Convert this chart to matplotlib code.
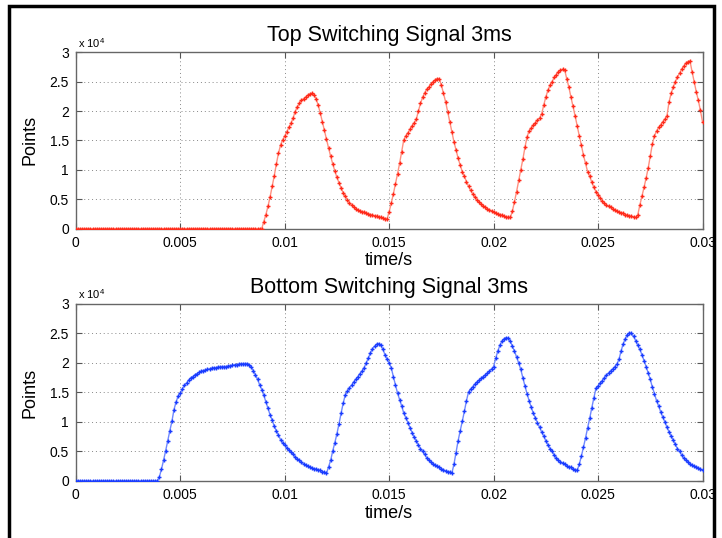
import numpy as np
import matplotlib
matplotlib.use('Agg')
import matplotlib.pyplot as plt
from matplotlib.patches import Rectangle

# Sampling grid: 0 .. 0.03 s in steps of 0.1 ms
dt = 1e-4
n_samples = 301

# Top switching signal (values in units of 1e4 points)
top_points = [0.0] * 90 + [
    0.12, 0.24, 0.38, 0.54, 0.72, 0.90, 1.10, 1.28, 1.42, 1.51,
    1.57, 1.65, 1.72, 1.79, 1.88, 1.99, 2.07, 2.13, 2.18, 2.21,
    2.24, 2.27, 2.29, 2.30, 2.27, 2.21, 2.10, 1.97, 1.82, 1.67,
    1.52, 1.37, 1.23, 1.10, 0.98, 0.87, 0.78, 0.69, 0.61, 0.55,
    0.49, 0.44, 0.40, 0.37, 0.34, 0.32, 0.30, 0.29, 0.28, 0.27,
    0.25, 0.24, 0.23, 0.22, 0.21, 0.20, 0.19, 0.18, 0.17, 0.16,
    0.29, 0.43, 0.59, 0.76, 0.93, 1.11, 1.31, 1.51, 1.58, 1.63,
    1.69, 1.75, 1.80, 1.86, 2.00, 2.13, 2.23, 2.31, 2.37, 2.41,
    2.46, 2.50, 2.53, 2.55, 2.55, 2.44, 2.30, 2.16, 1.99, 1.82,
    1.65, 1.48, 1.34, 1.20, 1.08, 0.97, 0.89, 0.80, 0.72, 0.65,
    0.59, 0.54, 0.49, 0.45, 0.42, 0.39, 0.36, 0.34, 0.32, 0.30,
    0.28, 0.27, 0.25, 0.24, 0.23, 0.21, 0.20, 0.19, 0.19, 0.30,
    0.46, 0.63, 0.82, 1.00, 1.18, 1.38, 1.56, 1.66, 1.71, 1.76,
    1.80, 1.84, 1.88, 1.95, 2.10, 2.24, 2.35, 2.44, 2.50, 2.57,
    2.62, 2.67, 2.69, 2.71, 2.70, 2.55, 2.41, 2.24, 2.08, 1.92,
    1.75, 1.58, 1.42, 1.25, 1.11, 0.97, 0.89, 0.79, 0.70, 0.63,
    0.58, 0.52, 0.47, 0.44, 0.40, 0.38, 0.36, 0.33, 0.32, 0.30,
    0.28, 0.27, 0.26, 0.24, 0.23, 0.22, 0.21, 0.20, 0.19, 0.23,
    0.40, 0.55, 0.70, 0.86, 1.03, 1.24, 1.44, 1.58, 1.66, 1.72,
    1.77, 1.82, 1.86, 1.92, 2.16, 2.30, 2.41, 2.50, 2.58, 2.64,
    2.71, 2.76, 2.81, 2.84, 2.85, 2.67, 2.50, 2.33, 2.18, 2.01, 1.82,
]

# Bottom switching signal (values in units of 1e4 points)
bottom_points = [0.0] * 40 + [
    0.07, 0.20, 0.35, 0.51, 0.68, 0.85, 1.01, 1.21, 1.34, 1.44,
    1.49, 1.56, 1.62, 1.66, 1.71, 1.75, 1.77, 1.80, 1.82, 1.84,
    1.86, 1.87, 1.88, 1.89, 1.90, 1.91, 1.92, 1.92, 1.93, 1.93,
    1.94, 1.94, 1.94, 1.95, 1.95, 1.96, 1.97, 1.97, 1.98, 1.98,
    1.99, 1.99, 1.99, 1.97, 1.93, 1.87, 1.80, 1.72, 1.63, 1.55,
    1.45, 1.34, 1.23, 1.12, 1.03, 0.93, 0.85, 0.78, 0.70, 0.65,
    0.61, 0.56, 0.52, 0.49, 0.45, 0.41, 0.38, 0.35, 0.32, 0.29,
    0.27, 0.25, 0.24, 0.22, 0.21, 0.20, 0.19, 0.18, 0.16, 0.15,
    0.13, 0.24, 0.35, 0.51, 0.65, 0.80, 0.97, 1.15, 1.32, 1.46,
    1.52, 1.58, 1.62, 1.68, 1.72, 1.77, 1.82, 1.86, 1.92, 2.00,
    2.08, 2.17, 2.24, 2.28, 2.32, 2.33, 2.30, 2.23, 2.14, 2.06,
    2.00, 1.92, 1.77, 1.63, 1.49, 1.38, 1.27, 1.15, 1.07, 0.99,
    0.90, 0.82, 0.74, 0.68, 0.61, 0.55, 0.50, 0.45, 0.39, 0.35,
    0.32, 0.29, 0.27, 0.25, 0.23, 0.21, 0.19, 0.17, 0.16, 0.15,
    0.13, 0.28, 0.48, 0.68, 0.85, 1.01, 1.18, 1.36, 1.51, 1.56,
    1.60, 1.64, 1.68, 1.71, 1.74, 1.77, 1.80, 1.83, 1.86, 1.90,
    1.94, 2.08, 2.20, 2.30, 2.37, 2.41, 2.43, 2.42, 2.37, 2.28,
    2.20, 2.10, 2.00, 1.89, 1.75, 1.61, 1.48, 1.36, 1.25, 1.15,
    1.07, 0.99, 0.91, 0.83, 0.76, 0.68, 0.61, 0.55, 0.50, 0.44,
    0.39, 0.35, 0.33, 0.30, 0.28, 0.26, 0.24, 0.23, 0.21, 0.19,
    0.18, 0.28, 0.42, 0.57, 0.73, 0.90, 1.06, 1.24, 1.41, 1.57,
    1.61, 1.66, 1.70, 1.75, 1.79, 1.83, 1.87, 1.90, 1.94, 1.98,
    2.06, 2.20, 2.32, 2.41, 2.48, 2.51, 2.50, 2.45, 2.38, 2.30,
    2.23, 2.14, 2.04, 1.94, 1.83, 1.72, 1.59, 1.48, 1.36, 1.27,
    1.17, 1.08, 1.00, 0.91, 0.83, 0.76, 0.69, 0.62, 0.55, 0.50,
    0.44, 0.39, 0.35, 0.32, 0.29, 0.27, 0.25, 0.24, 0.22, 0.20, 0.19,
]

x_ticks = [0, 0.005, 0.01, 0.015, 0.02, 0.025, 0.03]
x_tick_labels = ['0', '0.005', '0.01', '0.015', '0.02', '0.025', '0.03']
y_ticks = [0, 0.5, 1, 1.5, 2, 2.5, 3]
y_tick_labels = ['0', '0.5', '1', '1.5', '2', '2.5', '3']
titles = ['Top Switching Signal 3ms', 'Bottom Switching Signal 3ms']

time = np.arange(n_samples) * dt

plt.rcParams['font.family'] = ['Liberation Sans', 'DejaVu Sans']
plt.rcParams['mathtext.fontset'] = 'custom'
plt.rcParams['mathtext.rm'] = 'Liberation Sans'

fig = plt.figure(figsize=(7.22, 5.38), dpi=100)
ax_top = fig.add_axes([0.105, 0.575, 0.868, 0.328])
ax_bot = fig.add_axes([0.105, 0.106, 0.868, 0.329])

series = [
    (ax_top, top_points, '#ff2a1a', '#ff9080'),
    (ax_bot, bottom_points, '#1a3cff', '#6f88ff'),
]

for (ax, values, mcolor, lcolor), title in zip(series, titles):
    ax.plot(time, values, '-', color=lcolor, lw=1.0, zorder=3)
    ax.plot(time, values, '+', color=mcolor, ms=3, mew=1.0, zorder=4)
    ax.set_xlim(0, 0.03)
    ax.set_ylim(0, 3)
    ax.set_xticks(x_ticks)
    ax.set_xticklabels(x_tick_labels)
    ax.set_yticks(y_ticks)
    ax.set_yticklabels(y_tick_labels)
    ax.tick_params(direction='in', top=True, right=True, length=4,
                   color='#555555', labelsize=10, pad=5)
    ax.grid(True, linestyle=(0, (1, 3)), color='#888888', lw=0.7)
    for s in ax.spines.values():
        s.set_color('#666666')
        s.set_linewidth(1.0)
    ax.set_title(title, fontsize=15.5, pad=8)
    ax.set_xlabel('time/s', fontsize=13, labelpad=2)
    ax.set_ylabel('Points', fontsize=13, labelpad=8)
    # MATLAB-style exponent label
    ax.text(0.004, 1.015, r'x 10$^{\mathregular{4}}$', transform=ax.transAxes,
            fontsize=8, ha='left', va='bottom')

# Black frame around the figure
frame = Rectangle((9 / 722, -0.05), (714 - 9) / 722, 1.05 - 6 / 538,
                  transform=fig.transFigure, fill=False, edgecolor='black',
                  lw=2.5, clip_on=False)
fig.patches.append(frame)

fig.savefig('out.png', dpi=100)
